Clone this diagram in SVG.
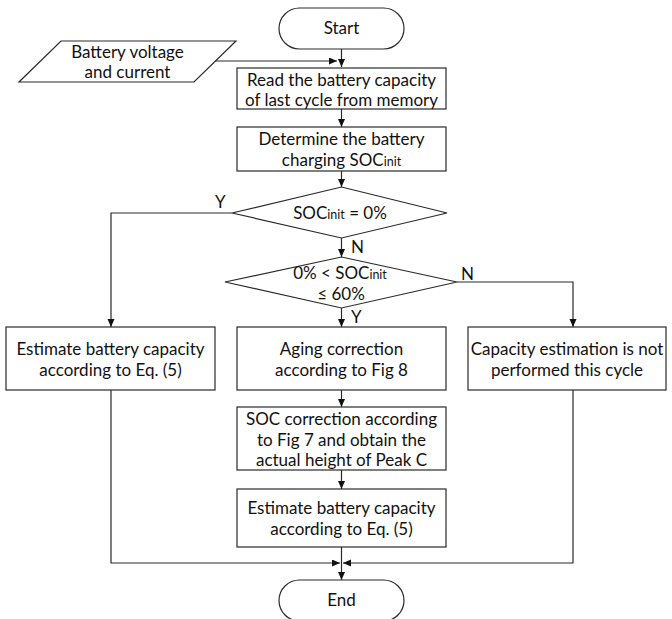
<svg xmlns="http://www.w3.org/2000/svg" width="672" height="619" viewBox="0 0 672 619">
<defs>
<marker id="arr" markerUnits="userSpaceOnUse" markerWidth="9" markerHeight="8" refX="8" refY="3.5" orient="auto">
<path d="M0,0 L8,3.5 L0,7 z" fill="#111"/>
</marker>
<style>
.s{fill:#fff;stroke:#2a2a2a;stroke-width:1.2}
.t{font-family:Lato,"Liberation Sans",Arial,sans-serif;font-size:17px;fill:#111;text-anchor:middle}
.l{font-family:Lato,"Liberation Sans",Arial,sans-serif;font-size:17px;fill:#111}
.sub{font-size:12.5px}
.c{fill:none;stroke:#2a2a2a;stroke-width:1.2}
.a{fill:none;stroke:#2a2a2a;stroke-width:1.2;marker-end:url(#arr)}
</style>
</defs>
<rect width="672" height="619" fill="#fff"/>
<g id="connectors">
<path class="a" d="M341.5,49 V67"/>
<path class="a" d="M215,61 H337"/>
<path class="a" d="M341.5,109 V127"/>
<path class="a" d="M341.5,171 V187"/>
<path class="a" d="M232,213 H111 V327"/>
<path class="a" d="M341.5,238 V257"/>
<path class="a" d="M457,282 H573 V327"/>
<path class="a" d="M341.5,308 V327"/>
<path class="a" d="M341.5,390 V407"/>
<path class="a" d="M341.5,470 V489"/>
<path class="a" d="M111,390 V563 H340"/>
<path class="a" d="M573,390 V563 H343"/>
<path class="a" d="M341.5,547 V580"/>
<text class="l" x="215" y="208">Y</text>
<text class="l" x="351" y="253">N</text>
<text class="l" x="461" y="280">N</text>
<text class="l" x="351" y="323">Y</text>
</g>
<g id="start">
<rect class="s" x="279" y="8" width="125" height="41" rx="20.5"/>
<text class="t" x="341.5" y="34">Start</text>
</g>
<g id="input">
<polygon class="s" points="61,41 236,41 194,82 19,82"/>
<text class="t" x="127.5" y="58">Battery voltage</text>
<text class="t" x="127.5" y="78">and current</text>
</g>
<g id="read">
<rect class="s" x="237" y="68" width="209" height="41"/>
<text class="t" x="341.5" y="86">Read the battery capacity</text>
<text class="t" x="341.5" y="106">of last cycle from memory</text>
</g>
<g id="determine">
<rect class="s" x="237" y="127" width="209" height="44"/>
<text class="t" x="341.5" y="145">Determine the battery</text>
<text class="t" x="341.5" y="166">charging SOC<tspan class="sub">init</tspan></text>
</g>
<g id="dec1">
<polygon class="s" points="341.5,187 447,213 341.5,238 232,213"/>
<text class="t" x="340" y="219">SOC<tspan class="sub">init</tspan> = 0%</text>
</g>
<g id="dec2">
<polygon class="s" points="341.5,257 457,282 341.5,308 225,282"/>
<text class="t" x="340" y="279">0% &lt;  SOC<tspan class="sub">init</tspan></text>
<text class="t" x="341" y="300">≤ 60%</text>
</g>
<g id="estimate1">
<rect class="s" x="6" y="327" width="209" height="63"/>
<text class="t" x="110.5" y="355">Estimate battery capacity</text>
<text class="t" x="110.5" y="376">according to Eq. (5)</text>
</g>
<g id="aging">
<rect class="s" x="237" y="327" width="209" height="63"/>
<text class="t" x="341.5" y="355">Aging correction</text>
<text class="t" x="341.5" y="376">according to Fig 8</text>
</g>
<g id="notperformed">
<rect class="s" x="468" y="327" width="198" height="63"/>
<text class="t" x="567" y="355">Capacity estimation is not</text>
<text class="t" x="567" y="376">performed this cycle</text>
</g>
<g id="soccorr">
<rect class="s" x="237" y="407" width="209" height="63"/>
<text class="t" x="341.5" y="425">SOC correction according</text>
<text class="t" x="341.5" y="446">to Fig 7 and obtain the</text>
<text class="t" x="341.5" y="466">actual height of Peak C</text>
</g>
<g id="estimate2">
<rect class="s" x="237" y="489" width="209" height="58"/>
<text class="t" x="341.5" y="514">Estimate battery capacity</text>
<text class="t" x="341.5" y="535">according to Eq. (5)</text>
</g>
<g id="end">
<rect class="s" x="279" y="580" width="125" height="41" rx="20.5"/>
<text class="t" x="341.5" y="606">End</text>
</g>
</svg>
